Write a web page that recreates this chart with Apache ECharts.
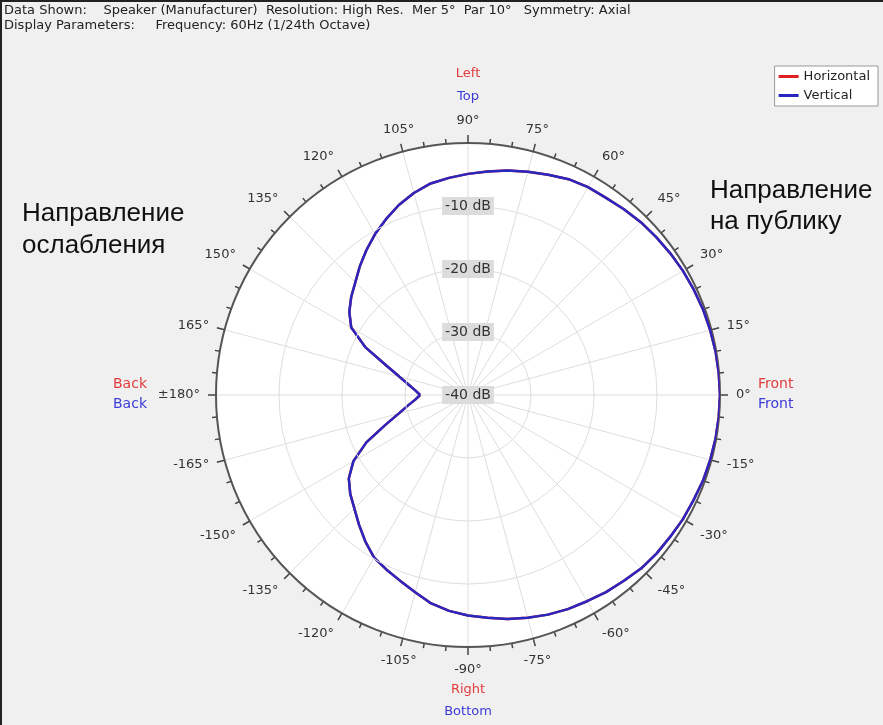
<!DOCTYPE html>
<html>
<head>
<meta charset="utf-8">
<script src="https://cdn.jsdelivr.net/npm/echarts@6/dist/echarts.min.js"></script>
<style>
  html, body { margin: 0; padding: 0; background: #f0f0f0; }
  #chart { width: 883px; height: 725px; }
</style>
</head>
<body>
<div id="chart"></div>
<script>
// angle (deg) and level (dB), 5 deg steps
const angles = [-180, -175, -170, -165, -160, -155, -150, -145, -140, -135, -130, -125, -120, -115, -110, -105, -100, -95, -90, -85, -80, -75, -70, -65, -60, -55, -50, -45, -40, -35, -30, -25, -20, -15, -10, -5,
  0, 5, 10, 15, 20, 25, 30, 35, 40, 45, 50, 55, 60, 65, 70, 75, 80, 85, 90, 95, 100, 105, 110, 115, 120, 125, 130, 135, 140, 145, 150, 155, 160, 165, 170, 175, 180]
const horizontalDb = [-32.4, -31.6, -30.3, -28.6, -26.0, -22.2, -19.0, -16.9, -15.6, -14.5, -13.1, -11.6, -10.2, -9.4, -8.6, -7.6, -6.4, -5.6, -5.0, -4.5, -3.9, -3.4, -2.9, -2.5, -2.2, -1.8, -1.5, -1.1, -0.9, -0.8, -0.6, -0.5, -0.3, -0.2, -0.1, -0.05,
  0, -0.05, -0.1, -0.2, -0.3, -0.45, -0.6, -0.8, -1.0, -1.2, -1.5, -1.8, -1.9, -2.2, -2.8, -3.3, -3.8, -4.4, -4.9, -5.4, -5.9, -6.8, -7.9, -9.2, -10.5, -11.9, -13.3, -14.7, -15.8, -17.0, -18.6, -22.0, -26.1, -28.7, -30.4, -31.6, -32.4]
// axial symmetry: vertical plane equals horizontal plane
const verticalDb = horizontalDb.slice()
const seriesNames = ['Horizontal', 'Vertical']

const chart = echarts.init(document.getElementById('chart'))
const C = [468, 395], R = 252
const font = 'DejaVu Sans, Verdana, sans-serif'
const arial = 'Liberation Sans, Arial, sans-serif'
const grid = '#dedede'
const txt = (x, y, s, color, size, align, fam) => ({
  type: 'text', x, y,
  style: { text: s, fill: color || '#222', font: `${size || 13}px ${fam || font}`, align: align || 'left', verticalAlign: 'middle' }
})

chart.setOption({
  animation: false,
  polar: [
    { center: C, radius: R },
    { center: C, radius: R }
  ],
  angleAxis: [{
    polarIndex: 0, type: 'value', min: -180, max: 180, interval: 15,
    startAngle: 180, clockwise: false,
    axisLine: { lineStyle: { color: '#555', width: 2 } },
    axisTick: { show: true, inside: false, length: 8, lineStyle: { color: '#444', width: 1.5 } },
    minorTick: { show: true, splitNumber: 3, length: 5, lineStyle: { color: '#444', width: 1.5 } },
    axisLabel: {
      margin: 16, color: '#333', fontSize: 13, fontFamily: font,
      formatter: v => (Math.abs(v) === 180 ? '±180' : v) + '°'
    },
    splitLine: { show: true, lineStyle: { color: grid, width: 1 } }
  }, {
    polarIndex: 1, type: 'value', min: 0, max: 360, show: false
  }],
  radiusAxis: [{
    polarIndex: 0, type: 'value', min: -40, max: 0, interval: 10,
    axisLine: { show: false }, axisTick: { show: false }, axisLabel: { show: false },
    splitLine: { show: false },
    splitArea: { show: true, areaStyle: { color: ['#ffffff'] } }
  }, {
    // second polar only carries the rings and the dB labels up the 90 deg line
    polarIndex: 1, type: 'value', min: -40, max: 0, interval: 10, z: 10,
    axisLine: { show: false }, axisTick: { show: false },
    splitLine: { show: true, lineStyle: { color: [grid, grid, grid, grid, 'rgba(0,0,0,0)'], width: 1 } },
    axisLabel: {
      showMaxLabel: false, margin: 0, align: 'center', verticalAlign: 'middle', rotate: 0,
      color: '#333', fontSize: 14, fontFamily: font,
      backgroundColor: '#dcdcdc', padding: [2, 3],
      formatter: v => v + ' dB'
    }
  }],
  legend: {
    right: 5, top: 66, orient: 'vertical', itemGap: 6,
    backgroundColor: '#fff', borderColor: '#999', borderWidth: 1, borderRadius: 0,
    padding: [4, 8, 4, 4], icon: 'rect', itemWidth: 20, itemHeight: 3,
    textStyle: { fontSize: 13, fontFamily: font, color: '#222' },
    data: seriesNames
  },
  series: [
    { name: seriesNames[0], type: 'line', coordinateSystem: 'polar', polarIndex: 0, showSymbol: false, z: 5,
      lineStyle: { color: '#e02020', width: 2.5 }, itemStyle: { color: '#e02020' },
      data: angles.map((a, i) => [horizontalDb[i], a]) },
    { name: seriesNames[1], type: 'line', coordinateSystem: 'polar', polarIndex: 0, showSymbol: false, z: 6,
      lineStyle: { color: '#2828c0', width: 2.5 }, itemStyle: { color: '#2828c0' },
      data: angles.map((a, i) => [verticalDb[i], a]) }
  ],
  graphic: [
    { type: 'rect', shape: { x: 0, y: 0, width: 2, height: 725 }, style: { fill: '#222' } },
    { type: 'rect', shape: { x: 0, y: 0, width: 883, height: 2 }, style: { fill: '#222' } },
    txt(4, 11, 'Data Shown:    Speaker (Manufacturer)  Resolution: High Res.  Mer 5°  Par 10°   Symmetry: Axial', '#222', 13),
    txt(4, 26, 'Display Parameters:     Frequency: 60Hz (1/24th Octave)', '#222', 13),
    txt(468, 74, 'Left', '#e23b3b', 13, 'center'),
    txt(468, 97, 'Top', '#3b3bd8', 13, 'center'),
    txt(468, 690, 'Right', '#e23b3b', 13, 'center'),
    txt(468, 712, 'Bottom', '#3b3bd8', 13, 'center'),
    txt(147, 384, 'Back', '#e23b3b', 14, 'right'),
    txt(147, 404, 'Back', '#3b3bd8', 14, 'right'),
    txt(758, 384, 'Front', '#e23b3b', 14),
    txt(758, 404, 'Front', '#3b3bd8', 14),
    txt(22, 214, 'Направление', '#111', 26, 'left', arial),
    txt(22, 246, 'ослабления', '#111', 26, 'left', arial),
    txt(710, 191, 'Направление', '#111', 26, 'left', arial),
    txt(710, 222, 'на публику', '#111', 26, 'left', arial)
  ]
})
</script>
</body>
</html>
